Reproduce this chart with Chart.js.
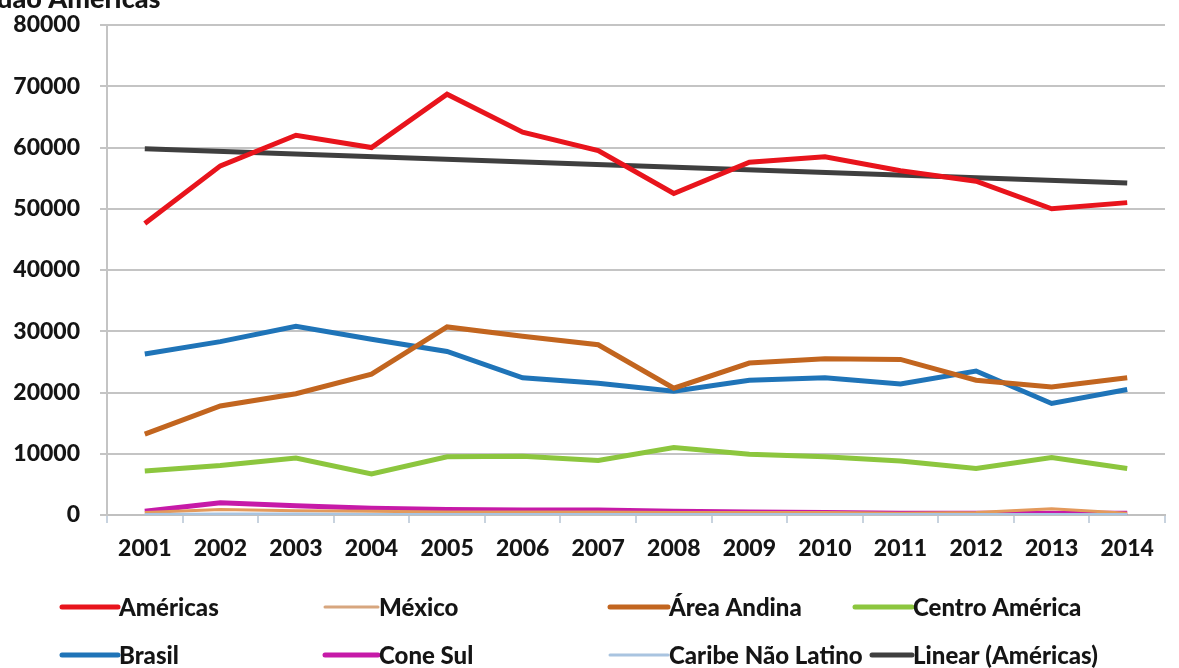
<!DOCTYPE html>
<html>
<head>
<meta charset="utf-8">
<script src="https://cdn.jsdelivr.net/npm/chart.js@4/dist/chart.umd.min.js"></script>
<style>
  html, body { margin: 0; padding: 0; background: #fff; }
  #wrap { position: relative; width: 1179px; height: 668px; }
</style>
</head>
<body>
<div id="wrap"><canvas id="grafico"></canvas></div>
<script>
// dados
const anos = ["2001","2002","2003","2004","2005","2006","2007","2008","2009","2010","2011","2012","2013","2014"];
const americas = [47600, 57000, 62000, 60000, 68700, 62500, 59500, 52500, 57600, 58500, 56200, 54500, 50000, 51000];
const mexico = [400, 900, 700, 600, 500, 500, 500, 400, 400, 400, 300, 400, 1000, 300];
const areaAndina = [13200, 17800, 19800, 23000, 30700, 29200, 27800, 20700, 24800, 25500, 25400, 22000, 20900, 22400];
const centroAmerica = [7200, 8100, 9300, 6700, 9500, 9600, 8900, 11000, 9900, 9500, 8800, 7600, 9400, 7600];
const brasil = [26300, 28300, 30800, 28700, 26700, 22400, 21500, 20200, 22000, 22400, 21400, 23500, 18200, 20500];
const coneSul = [600, 2000, 1500, 1100, 900, 800, 800, 600, 500, 400, 300, 300, 300, 300];
const caribe = [100, 150, 150, 100, 100, 100, 100, 100, 100, 100, 100, 100, 100, 100];
// tendência linear (só os extremos, a reta liga os dois)
const linearAmericas = [59800, null, null, null, null, null, null, null, null, null, null, null, null, 54200];

const fonte = "Lato, 'Open Sans', sans-serif";

function serie(label, data, cor, largura) {
  return {
    label: label,
    data: data,
    borderColor: cor,
    backgroundColor: cor,
    borderWidth: largura,
    pointRadius: 0,
    tension: 0,
    fill: false,
    spanGaps: true
  };
}

// ordem de desenho: o último fica por cima
const datasets = [
  serie("Caribe Não Latino", caribe, "#a9c4e0", 3),
  serie("México", mexico, "#e39a5c", 3),
  serie("Cone Sul", coneSul, "#c61aa8", 5),
  serie("Centro América", centroAmerica, "#8cc63e", 5),
  serie("Área Andina", areaAndina, "#c2651f", 5),
  serie("Brasil", brasil, "#1f74b8", 5),
  serie("Américas", americas, "#e8141c", 5),
  serie("Linear (Américas)", linearAmericas, "#3f3f3f", 5)
];

// legenda em grade, como no original
const posLegenda = [
  { nome: "Américas", x1: 62, x2: 118, y: 607, cor: "#e8141c", w: 5 },
  { nome: "México", x1: 325, x2: 378, y: 607, cor: "#d7a67e", w: 3 },
  { nome: "Área Andina", x1: 610, x2: 668, y: 607, cor: "#c2651f", w: 5 },
  { nome: "Centro América", x1: 855, x2: 912, y: 607, cor: "#8cc63e", w: 5 },
  { nome: "Brasil", x1: 62, x2: 118, y: 655, cor: "#1f74b8", w: 5 },
  { nome: "Cone Sul", x1: 325, x2: 378, y: 655, cor: "#c61aa8", w: 5 },
  { nome: "Caribe Não Latino", x1: 610, x2: 668, y: 655, cor: "#a9c4e0", w: 3 },
  { nome: "Linear (Américas)", x1: 872, x2: 912, y: 655, cor: "#3f3f3f", w: 5 }
];

const legendaGrade = {
  id: "legendaGrade",
  afterDraw(chart) {
    const ctx = chart.ctx;
    ctx.save();
    ctx.font = "900 24px " + fonte;
    ctx.textBaseline = "middle";
    ctx.fillStyle = "#151515";
    posLegenda.forEach(item => {
      ctx.beginPath();
      ctx.strokeStyle = item.cor;
      ctx.lineWidth = item.w;
      ctx.lineCap = "round";
      ctx.moveTo(item.x1, item.y);
      ctx.lineTo(item.x2, item.y);
      ctx.stroke();
      ctx.fillText(item.nome, item.x2 + 1, item.y + 1);
    });
    // resto do título, cortado no topo
    ctx.font = "900 27px " + fonte;
    ctx.textBaseline = "alphabetic";
    ctx.fillText("dao Américas", -3, 8);
    ctx.restore();
  }
};

const ctx = document.getElementById("grafico").getContext("2d");
const grafico = new Chart(ctx, {
  type: "line",
  data: { labels: anos, datasets: datasets },
  options: {
    responsive: true,
    maintainAspectRatio: false,
    animation: false,
    layout: { padding: { top: 25, right: 14, left: 0, bottom: 0 } },
    plugins: {
      legend: { display: false },
      tooltip: { enabled: false }
    },
    scales: {
      x: {
        offset: true,
        afterFit: s => { s.height = 153; s.paddingLeft = 0; s.paddingRight = 0; },
        grid: {
          offset: true,
          drawOnChartArea: false,
          drawTicks: true,
          tickLength: 8,
          color: "#c8d3df",
          lineWidth: 2
        },
        border: { color: "#c0c0c0", width: 2 },
        ticks: {
          color: "#151515",
          padding: 12,
          maxRotation: 0,
          font: { family: fonte, size: 23, weight: "900" }
        }
      },
      y: {
        min: 0,
        max: 80000,
        afterFit: s => { s.width = 107; s.paddingTop = 0; s.paddingBottom = 0; },
        grid: {
          color: "#c4c4c4",
          lineWidth: 2,
          tickLength: 7
        },
        border: { color: "#c4c4c4", width: 2 },
        ticks: {
          stepSize: 10000,
          color: "#151515",
          padding: 20,
          callback: v => String(v),
          font: { family: fonte, size: 23, weight: "900" }
        }
      }
    }
  },
  plugins: [legendaGrade]
});
</script>
</body>
</html>
